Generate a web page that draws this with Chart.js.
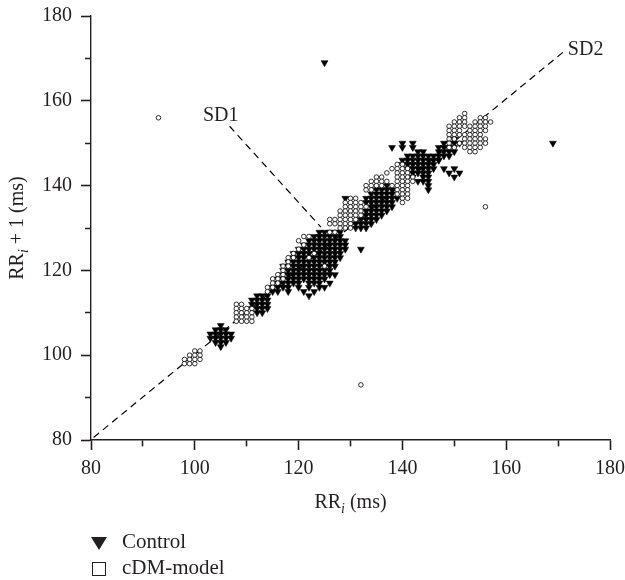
<!DOCTYPE html>
<html>
<head>
<meta charset="utf-8">
<title>Poincaré plot</title>
<script src="https://cdn.jsdelivr.net/npm/chart.js@4.4.1/dist/chart.umd.min.js"></script>
<style>
  html, body { margin: 0; padding: 0; background: #fff; }
  #wrap { position: relative; width: 625px; height: 580px; }
  #chart { position: absolute; left: 0; top: 0; }
  .lg { position: absolute; font: 21px 'Liberation Serif', 'Times New Roman', serif; color: #231f20; line-height: 21px; white-space: nowrap; }
  .tri { position: absolute; width: 0; height: 0; border-left: 8.5px solid transparent; border-right: 8.5px solid transparent; border-top: 13px solid #231f20; }
  .sq { position: absolute; width: 12px; height: 12px; border: 1.3px solid #231f20; }
</style>
</head>
<body>
<div id="wrap">
  <canvas id="chart" width="625" height="580"></canvas>
  <div class="tri" style="left:91px; top:537px;"></div>
  <div class="lg" style="left:122px; top:531px;">Control</div>
  <div class="sq" style="left:92px; top:562px;"></div>
  <div class="lg" style="left:122px; top:557px;">cDM-model</div>
</div>
<script>
// Poincaré plot of RR intervals, Control vs cDM-model
// each row: [RR(i+1), [RR(i) values on that row]]

const controlA = [
  [107, [105]],
  [106, [104, 105, 106]],
  [105, [103, 104, 105, 106, 107]],
  [104, [103, 104, 105, 106, 107]],
  [103, [104, 105, 106]],
  [102, [105]]
];
const controlB = [
  [114, [112, 113, 114]],
  [113, [111, 112, 113, 114]],
  [112, [111, 112, 113, 114]],
  [111, [111, 112, 113, 114]],
  [110, [112, 113]]
];
const controlD = [
  [129, [124, 125, 126, 127, 128]],
  [128, [123, 124, 125, 126, 127, 128]],
  [127, [122, 123, 124, 125, 126, 127, 128, 129]],
  [126, [121, 122, 123, 124, 125, 126, 127, 128, 129]],
  [125, [120, 121, 122, 123, 124, 125, 126, 127, 128, 129, 132]],
  [124, [119, 120, 121, 122, 123, 124, 125, 126, 127, 128]],
  [123, [119, 120, 121, 122, 123, 124, 125, 126, 127, 128]],
  [122, [118, 119, 120, 121, 122, 123, 124, 125, 126, 127]],
  [121, [117, 118, 119, 120, 121, 122, 123, 124, 125, 126, 127]],
  [120, [117, 118, 119, 120, 121, 122, 123, 124, 125, 126]],
  [119, [117, 118, 119, 120, 121, 122, 123, 124, 125, 126, 127]],
  [118, [116, 117, 118, 119, 120, 121, 122, 123, 124, 125]],
  [117, [116, 117, 118, 119, 120, 122, 123, 124, 126]],
  [116, [115, 116, 117, 118, 120, 122, 124, 125]],
  [115, [115, 116, 118, 121, 123]],
  [114, [122]]
];
const controlE = [
  [140, [137]],
  [139, [135, 136, 137, 138]],
  [138, [134, 135, 136, 137, 138]],
  [137, [129, 133, 134, 135, 136, 137, 138, 139]],
  [136, [133, 134, 135, 136, 137, 138]],
  [135, [134, 135, 136, 137, 138]],
  [134, [133, 134, 135, 136, 137]],
  [133, [133, 134, 135, 136]],
  [132, [132, 133, 134, 135]],
  [131, [131, 132, 133, 134]],
  [130, [131, 132, 133]]
];
const controlF = [
  [150, [140, 142]],
  [149, [138, 140, 142]],
  [148, [143, 144]],
  [147, [141, 142, 143, 144, 145, 146]],
  [146, [140, 141, 142, 143, 144, 145, 146, 147]],
  [145, [140, 141, 142, 143, 144, 145, 146]],
  [144, [141, 142, 143, 144, 145, 146, 148, 150]],
  [143, [142, 143, 144, 145, 149, 151]],
  [142, [142, 144, 145, 150]],
  [141, [143, 144, 145]],
  [140, [145]],
  [139, [145]]
];
const controlG = [
  [151, [150]],
  [150, [148, 149, 150, 151]],
  [149, [147, 148, 149, 150]],
  [148, [147, 148, 149, 150]],
  [147, [147, 148, 149]],
  [146, [147]]
];
const controlOutliers = [
  [169, [125]],
  [150, [169]]
];

const cdmA = [
  [101, [100, 101]],
  [100, [99, 100, 101]],
  [99, [98, 99, 100, 101]],
  [98, [98, 99, 100]]
];
const cdmB = [
  [112, [108, 109]],
  [111, [108, 109, 110, 111]],
  [110, [108, 109, 110, 111]],
  [109, [108, 109, 110, 111]],
  [108, [108, 109, 110, 111]]
];
const cdmC = [
  [128, [121, 122]],
  [127, [120]],
  [126, [121]],
  [125, [120]],
  [124, [119, 123]],
  [123, [118, 119, 122]],
  [122, [118]],
  [121, [117, 118, 125]],
  [120, [117]],
  [119, [116, 117]],
  [118, [115, 116, 117]],
  [117, [115, 116]],
  [116, [114, 115]],
  [115, [114]]
];
const cdmD = [
  [145, [139, 140]],
  [144, [138, 139, 140, 141]],
  [143, [137, 139, 140, 141]],
  [142, [135, 136, 139, 140, 141, 142]],
  [141, [134, 135, 136, 137, 139, 140, 141, 142]],
  [140, [133, 134, 135, 136, 138, 139, 140, 141]],
  [139, [133, 134, 139, 140, 141]],
  [138, [139, 140, 141]],
  [137, [130, 131, 140, 141]],
  [136, [129, 130, 131, 132, 140]],
  [135, [129, 130, 131, 132, 133]],
  [134, [128, 129, 130, 131, 132]],
  [133, [128, 129, 130, 131, 132]],
  [132, [126, 127, 128, 129, 130, 131]],
  [131, [126, 127, 128, 129, 130]],
  [130, [128, 129, 130]],
  [129, [126, 127]]
];
const cdmE = [
  [157, [152]],
  [156, [151, 152, 155, 156]],
  [155, [150, 151, 152, 154, 155, 156, 157]],
  [154, [149, 150, 151, 152, 153, 154, 155, 156]],
  [153, [149, 150, 151, 153, 154, 155, 156]],
  [152, [149, 150, 151, 152, 153, 154, 155]],
  [151, [149, 150, 152, 153, 154, 155, 156]],
  [150, [149, 151, 152, 153, 154, 155, 156]],
  [149, [149, 150, 152, 153, 154, 155]],
  [148, [153, 154]]
];
const cdmOutliers = [
  [156, [93]],
  [93, [132]],
  [135, [156]]
];

// SD lines (ms) and their labels
const sd2LineX = [80.5, 171];
const sd2LineY = [80.6, 171.5];
const sd1LineX = [106.7, 124.3];
const sd1LineY = [154, 130.2];
const sdLabels = ['SD1', 'SD2'];
const sdLabelX = [105, 175.3];
const sdLabelY = [155.2, 170.8];

const textColor = '#231f20';
const serif = "'Liberation Serif', 'Times New Roman', serif";

function rowsToPoints(groups) {
  const pts = [];
  groups.forEach(rows => rows.forEach(([y, xs]) => xs.forEach(x => pts.push({ x: x, y: y }))));
  return pts;
}

function linePoints(xs, ys) {
  return xs.map((x, i) => ({ x: x, y: ys[i] }));
}

// "RR" + italic subscript i + suffix, centred on 0, baseline at 0
function drawRRi(ctx, suffix) {
  ctx.font = '20px ' + serif;
  const w1 = ctx.measureText('RR').width;
  const w3 = ctx.measureText(suffix).width;
  ctx.font = 'italic 14px ' + serif;
  const w2 = ctx.measureText('i').width;
  let x = -(w1 + w2 + w3) / 2;
  ctx.textAlign = 'left';
  ctx.textBaseline = 'alphabetic';
  ctx.font = '20px ' + serif;
  ctx.fillText('RR', x, 0);
  x += w1;
  ctx.font = 'italic 14px ' + serif;
  ctx.fillText('i', x, 5);
  x += w2;
  ctx.font = '20px ' + serif;
  ctx.fillText(suffix, x, 0);
}

const textPlugin = {
  id: 'textPlugin',
  afterDraw(chart) {
    const ctx = chart.ctx;
    const area = chart.chartArea;
    const xs = chart.scales.x;
    const ys = chart.scales.y;
    ctx.save();
    ctx.fillStyle = textColor;

    // x title
    ctx.save();
    ctx.translate((area.left + area.right) / 2, 508);
    drawRRi(ctx, ' (ms)');
    ctx.restore();

    // y title
    ctx.save();
    ctx.translate(23, (area.top + area.bottom) / 2);
    ctx.rotate(-Math.PI / 2);
    drawRRi(ctx, ' + 1 (ms)');
    ctx.restore();

    // SD labels
    ctx.font = '20px ' + serif;
    ctx.textAlign = 'center';
    ctx.textBaseline = 'alphabetic';
    sdLabels.forEach((t, i) => {
      ctx.fillText(t, xs.getPixelForValue(sdLabelX[i]), ys.getPixelForValue(sdLabelY[i]));
    });
    ctx.restore();
  }
};

const tickFont = { family: serif, size: 20 };

new Chart(document.getElementById('chart'), {
  type: 'scatter',
  data: {
    datasets: [
      {
        label: 'cDM-model',
        data: rowsToPoints([cdmA, cdmB, cdmC, cdmD, cdmE, cdmOutliers]),
        pointStyle: 'circle',
        pointRadius: 2.3,
        pointBorderWidth: 0.8,
        pointBackgroundColor: '#fff',
        pointBorderColor: '#000',
        order: 0
      },
      {
        label: 'Control',
        data: rowsToPoints([controlA, controlB, controlD, controlE, controlF, controlG, controlOutliers]),
        pointStyle: 'triangle',
        pointRotation: 180,
        pointRadius: 4,
        pointBorderWidth: 0.5,
        pointBackgroundColor: '#000',
        pointBorderColor: '#000',
        order: 1
      },
      {
        label: 'SD2',
        data: linePoints(sd2LineX, sd2LineY),
        showLine: true,
        pointRadius: 0,
        borderColor: '#000',
        borderWidth: 1.2,
        borderDash: [7, 5],
        order: 2
      },
      {
        label: 'SD1',
        data: linePoints(sd1LineX, sd1LineY),
        showLine: true,
        pointRadius: 0,
        borderColor: '#000',
        borderWidth: 1.2,
        borderDash: [7, 5],
        order: 2
      }
    ]
  },
  options: {
    responsive: false,
    animation: false,
    events: [],
    layout: { padding: { left: 0, right: 15, top: 16, bottom: 80 } },
    plugins: {
      legend: { display: false },
      tooltip: { enabled: false }
    },
    scales: {
      x: {
        type: 'linear',
        min: 80,
        max: 180,
        ticks: {
          stepSize: 10,
          autoSkip: false,
          maxRotation: 0,
          padding: 7,
          color: textColor,
          font: tickFont,
          callback: v => (v % 20 === 0 ? v : '')
        },
        grid: {
          drawOnChartArea: false,
          drawTicks: true,
          tickLength: 10,
          tickWidth: 1.6,
          tickColor: textColor,
          tickBorderDash: c => (c.tick && c.tick.value % 20 !== 0 ? [6, 30] : [])
        },
        border: { display: true, color: textColor, width: 1.4 },
        afterFit: s => { s.height = 60; s.paddingLeft = 0; s.paddingRight = 0; }
      },
      y: {
        type: 'linear',
        min: 80,
        max: 180,
        ticks: {
          stepSize: 10,
          autoSkip: false,
          padding: 9,
          color: textColor,
          font: tickFont,
          callback: v => (v % 20 === 0 ? v : '')
        },
        grid: {
          drawOnChartArea: false,
          drawTicks: true,
          tickLength: 10,
          tickWidth: 1.6,
          tickColor: textColor,
          tickBorderDash: c => (c.tick && c.tick.value % 20 !== 0 ? [0, 4, 6, 30] : [])
        },
        border: { display: true, color: textColor, width: 1.4 },
        afterFit: s => { s.width = 91; s.paddingTop = 0; s.paddingBottom = 0; }
      }
    }
  },
  plugins: [textPlugin]
});
</script>
</body>
</html>
